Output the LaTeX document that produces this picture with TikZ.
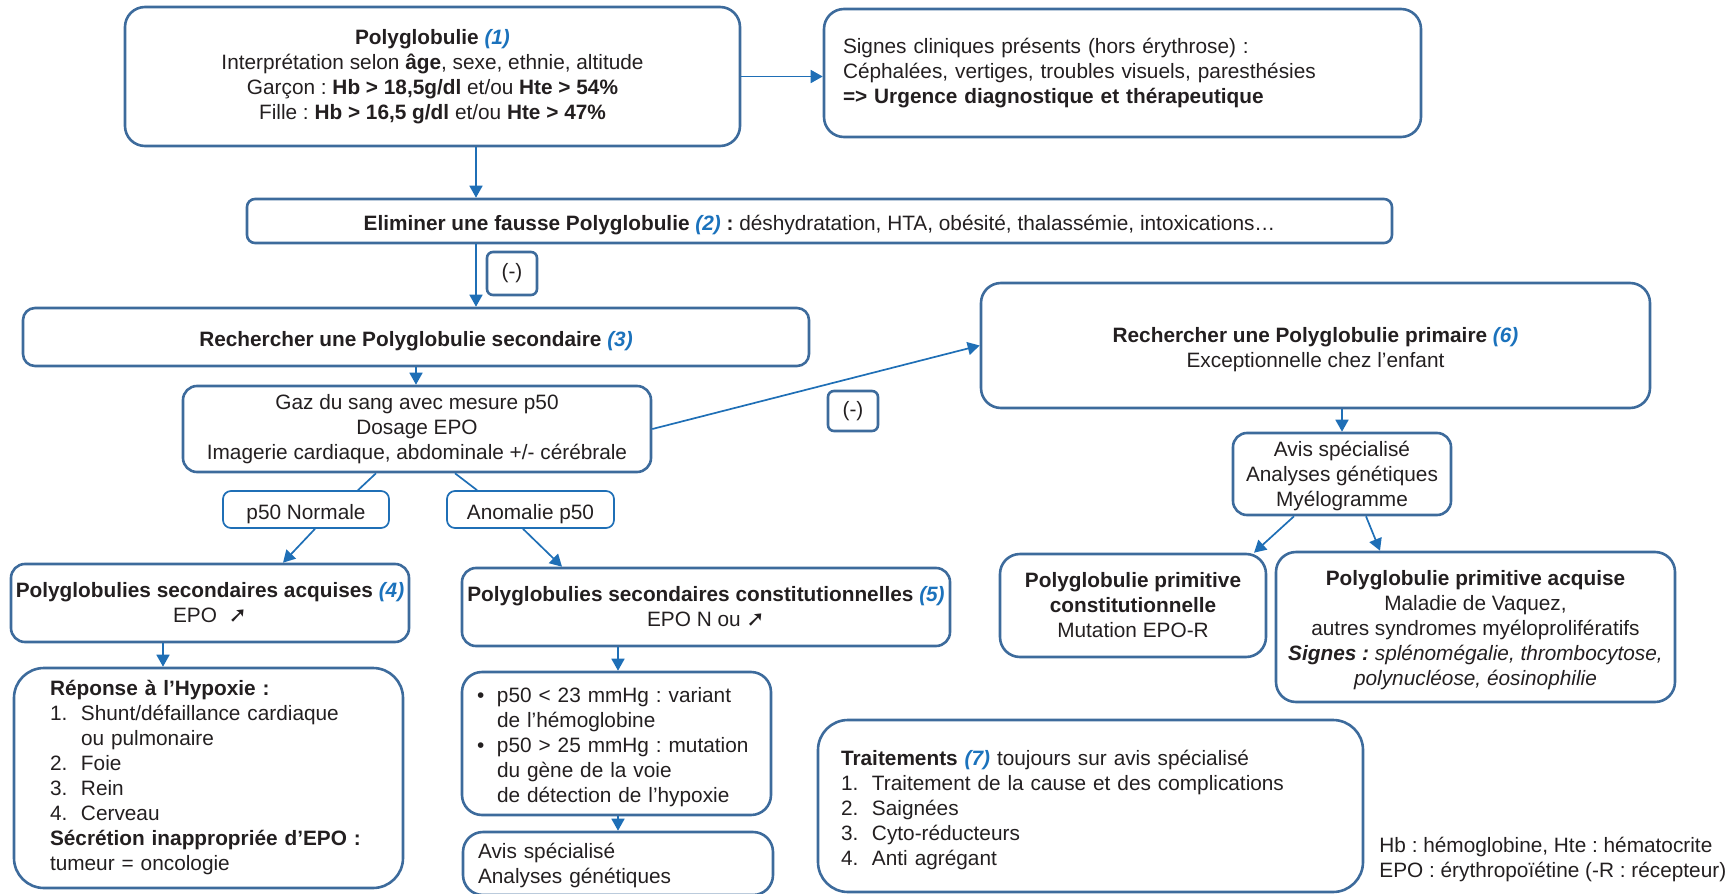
\documentclass[tikz,border=0pt]{standalone}
\usepackage{fontspec}
\setmainfont{Liberation Sans}
\newfontfamily\symfont{DejaVu Sans}
\usetikzlibrary{arrows.meta,calc}
\definecolor{boxblue}{HTML}{3D6B9C}
\definecolor{arrblue}{HTML}{1F6FB6}
\definecolor{numblue}{HTML}{1B72BC}
\definecolor{txt}{HTML}{231F20}
\frenchspacing
\newcommand{\num}[1]{{\color{numblue}\bfseries\itshape(#1)}}
\newcommand{\up}{{\symfont\bfseries\fontsize{11}{11}\selectfont ➚}}
\newcommand{\itm}[1]{\makebox[15.5pt][l]{#1}}
\newcommand{\bul}{\makebox[10pt][l]{•}}
\begin{document}
\begin{tikzpicture}[x=0.5pt,y=-0.5pt,
	every node/.style={text=txt,font=\fontsize{10.4}{12.5}\selectfont,inner sep=0pt},
	box/.style={draw=boxblue,line width=1.3pt,rounded corners=10pt,align=center},
	small/.style={draw=arrblue,line width=0.85pt,rounded corners=4pt,align=center},
	lbox/.style={box,align=left,inner xsep=#1},
	tb/.style 2 args={text height=#1,text depth=#2},
	arr/.style={draw=arrblue,line width=0.85pt,-{Triangle[length=6pt,width=6.5pt]}},
	lin/.style={draw=arrblue,line width=0.85pt}]
\useasboundingbox (0,0) rectangle (1736,894);
\node[box,minimum width=307.5pt,minimum height=69.5pt] (poly) at (432.5,76.5)
	{\textbf{Polyglobulie} \num{1}\\
	Interprétation selon \textbf{âge}, sexe, ethnie, altitude\\
	Garçon : \textbf{Hb > 18,5g/dl} et/ou \textbf{Hte > 54\%}\\
	Fille : \textbf{Hb > 16,5 g/dl} et/ou \textbf{Hte > 47\%}};
\node[lbox=9.5pt,text width=279.5pt,minimum height=64pt] (signes) at (1122.5,73)
	{Signes cliniques présents (hors érythrose) :\\
	Céphalées, vertiges, troubles visuels, paresthésies\\
	\textbf{=> Urgence diagnostique et thérapeutique}};
\node[box,tb={12pt}{2.2pt},rounded corners=4pt,minimum width=572.5pt,minimum height=22pt] (elim) at (819.5,221)
	{\textbf{Eliminer une fausse Polyglobulie} \num{2} \textbf{:} déshydratation, HTA, obésité, thalassémie, intoxications…};
\node[box,rounded corners=3pt,minimum width=25pt,minimum height=21.5pt] (moins1) at (512,273.5) {(-)};
\node[box,tb={12pt}{2.2pt},rounded corners=6pt,minimum width=393pt,minimum height=29pt] (second) at (416,337)
	{\textbf{Rechercher une Polyglobulie secondaire} \num{3}};
\node[box,rounded corners=7pt,minimum width=234pt,minimum height=43pt] (gaz) at (417,429)
	{Gaz du sang avec mesure p50\\Dosage EPO\\Imagerie cardiaque, abdominale +/- cérébrale};
\node[box,rounded corners=3pt,minimum width=25pt,minimum height=20pt] (moins2) at (853,411) {(-)};
\node[box,tb={24.5pt}{2.2pt},minimum width=334.5pt,minimum height=62.5pt] (prim) at (1315.5,345.5)
	{\textbf{Rechercher une Polyglobulie primaire} \num{6}\\Exceptionnelle chez l’enfant};
\node[small,tb={12pt}{2.2pt},minimum width=83pt,minimum height=18.5pt] (pnorm) at (306,509.5) {p50 Normale};
\node[small,tb={12pt}{2.2pt},minimum width=83.5pt,minimum height=18.5pt] (anom) at (530.5,509.5) {Anomalie p50};
\node[box,rounded corners=7pt,minimum width=199pt,minimum height=39pt] (acq) at (210,603)
	{\textbf{Polyglobulies secondaires acquises} \num{4}\\EPO\ \ \up};
\node[box,rounded corners=7pt,minimum width=244pt,minimum height=39pt] (const) at (706,607)
	{\textbf{Polyglobulies secondaires constitutionnelles} \num{5}\\EPO N ou \up};
\node[box,tb={34.6pt}{2.2pt},rounded corners=7pt,minimum width=109pt,minimum height=41pt] (avisP) at (1342,474)
	{Avis spécialisé\\Analyses génétiques\\Myélogramme};
\node[box,minimum width=133pt,minimum height=51.5pt] (pconst) at (1133,605.5)
	{\textbf{Polyglobulie primitive}\\\textbf{constitutionnelle}\\Mutation EPO-R};
\node[box,tb={60.8pt}{2.2pt},minimum width=199.5pt,minimum height=75pt] (pacq) at (1475.5,627)
	{\textbf{Polyglobulie primitive acquise}\\Maladie de Vaquez,\\autres syndromes myéloprolifératifs\\
	\textbf{\textit{Signes :}} \textit{splénomégalie, thrombocytose,}\\\textit{polynucléose, éosinophilie}};
\node[lbox=18pt,text width=158.5pt,minimum height=110pt,rounded corners=15pt] (hypox) at (208.5,778)
	{\textbf{Réponse à l’Hypoxie :}\\
	\itm{1.}Shunt/défaillance cardiaque\\
	\itm{}ou pulmonaire\\
	\itm{2.}Foie\\
	\itm{3.}Rein\\
	\itm{4.}Cerveau\\
	\textbf{Sécrétion inappropriée d’EPO :}\\
	tumeur = oncologie};
\node[lbox=7.5pt,tb={11.2pt}{52.2pt},text width=139.5pt,minimum height=71.5pt] (bull) at (616.5,743.5)
	{\bul p50 < 23 mmHg : variant\\
	\hspace*{10pt}de l’hémoglobine\\
	\bul p50 > 25 mmHg : mutation\\
	\hspace*{10pt}du gène de la voie\\
	\hspace*{10pt}de détection de l’hypoxie};
\node[lbox=7.5pt,tb={10pt}{14.7pt},text width=140pt,minimum height=31.5pt] (avisS) at (618,863.5)
	{Avis spécialisé\\Analyses génétiques};
\node[lbox=11.5pt,tb={11.6pt}{52.2pt},text width=249.5pt,minimum height=86pt,rounded corners=15pt] (trait) at (1090.5,806)
	{\textbf{Traitements} \num{7} toujours sur avis spécialisé\\
	\itm{1.}Traitement de la cause et des complications\\
	\itm{2.}Saignées\\
	\itm{3.}Cyto-réducteurs\\
	\itm{4.}Anti agrégant};
\node[anchor=west,align=left] (leg) at (1379,859)
	{Hb : hémoglobine, Hte : hématocrite\\EPO : érythropoïétine (-R : récepteur)};
\coordinate (spine) at (476,0);
\coordinate (col5) at (618,0);
\draw[arr] (poly.east) -- (poly.east -| signes.west);
\draw[arr] (poly.south -| spine) -- (elim.north -| spine);
\draw[arr] (elim.south -| spine) -- (second.north -| spine);
\draw[arr] (second.south) -- (second.south |- gaz.north);
\draw[arr] (gaz.east) -- (prim.west);
\draw[lin] ($(gaz.south)+(-41,0)$) -- ($(pnorm.north)+(52,0)$);
\draw[lin] ($(gaz.south)+(38,0)$) -- ($(anom.north)+(-53.5,0)$);
\draw[arr] ($(pnorm.south)+(9,0)$) -- ($(acq.north)+(73,0)$);
\draw[arr] ($(anom.south)+(-7.5,0)$) -- ($(const.north)+(-144,0)$);
\draw[arr] ($(acq.south)+(-47,0)$) -- ($(hypox.north)+(-45.5,0)$);
\draw[arr] (const.south -| col5) -- (bull.north -| col5);
\draw[arr] (bull.south -| col5) -- (avisS.north -| col5);
\draw[arr] (prim.south -| avisP.north) -- (avisP.north);
\draw[arr] ($(avisP.south)+(-48,0)$) -- ($(pconst.north)+(121,0)$);
\draw[arr] ($(avisP.south)+(24,0)$) -- ($(pacq.north)+(-95.5,0)$);
\end{tikzpicture}
\end{document}
